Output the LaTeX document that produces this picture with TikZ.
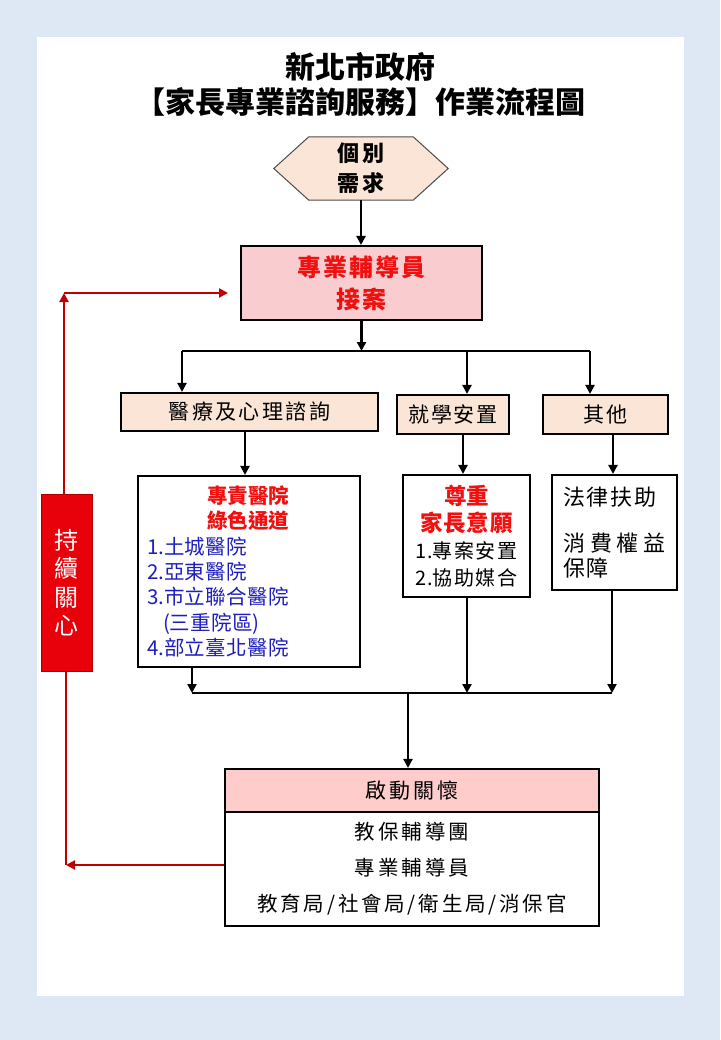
\documentclass[tikz,border=0pt]{standalone}
\usepackage{fontspec}
\setmainfont{Noto Sans CJK TC}
\usetikzlibrary{arrows.meta,calc,backgrounds}
\definecolor{bgblue}{RGB}{222,232,244}
\definecolor{peach}{RGB}{251,229,214}
\definecolor{pinkbox}{RGB}{249,204,208}
\definecolor{pinkhd}{RGB}{255,204,204}
\definecolor{tred}{RGB}{240,16,16}
\definecolor{tblue}{RGB}{30,30,190}
\definecolor{dred}{RGB}{192,0,0}
\definecolor{rcfill}{RGB}{232,0,10}
\definecolor{rcedge}{RGB}{170,0,0}
\makeatletter
\newcommand\lsp[2]{\def\lsp@k{#1}\@tfor\lsp@c:=#2\do{\lsp@c\kern\lsp@k}\unkern}
\makeatother
\newcommand\fs[2]{\fontsize{#1}{#2}\selectfont}
\tikzset{
  box/.style={draw=black, line width=2.1pt, inner sep=0pt, align=center},
  arr/.style={line width=2.7pt, -{Triangle[length=9pt,width=9pt]}},
  plain/.style={line width=2.7pt},
  redarr/.style={draw=dred, line width=2.5pt, -{Triangle[length=9pt,width=9pt]}},
  redline/.style={draw=dred, line width=2.5pt},
}
\begin{document}
\begin{tikzpicture}[x=1pt,y=-1pt]
\useasboundingbox (0,0) rectangle (720,1040);
\begin{scope}[on background layer]
  \fill[bgblue] (0,0) rectangle (720,1040);
  \fill[white] (37,37) rectangle (684,996);
\end{scope}

% title
\node[font=\fs{30}{35}\bfseries, align=center, inner sep=0pt] (title) at (360,84)
  {新北市政府\\【家長專業諮詢服務】作業流程圖};

% hexagon
\node[inner sep=0pt, minimum width=174pt, minimum height=63pt,
      font=\fs{22}{30}\bfseries, align=center] (hex) at (361,168.5)
  {\lsp{4pt}{個別}\\\lsp{4pt}{需求}};
\begin{scope}[on background layer]
  \draw[line width=1pt, draw=black!70, fill=peach]
    (hex.west) -- ($(hex.north west)+(35,0)$) -- ($(hex.north east)+(-35,0)$)
    -- (hex.east) -- ($(hex.south east)+(-35,0)$) -- ($(hex.south west)+(35,0)$) -- cycle;
\end{scope}

% main case box
\node[box, fill=pinkbox, minimum width=241pt, minimum height=74pt,
      font=\fs{24}{32}\bfseries, text=tred] (jd) at (361.5,283)
  {\lsp{2pt}{專業輔導員}\\\lsp{2pt}{接案}};

% category boxes
\node[box, fill=peach, minimum width=257pt, minimum height=38pt, font=\fs{21}{25}] (med) at (249.5,412)
  {\lsp{2.4pt}{醫療及心理諮詢}};
\node[box, fill=peach, minimum width=112pt, minimum height=39pt, font=\fs{21}{25}] (sch) at (453,414.5)
  {\lsp{2pt}{就學安置}};
\node[box, fill=peach, minimum width=125pt, minimum height=39pt, font=\fs{21}{25}] (oth) at (605.5,414.5)
  {\lsp{3pt}{其他}};

% detail boxes
\node[box, fill=white, minimum width=222pt, minimum height=191pt, inner xsep=9pt,
      text width=204pt, align=left, font=\fs{20.5}{25.3}] (hosp) at (249,571.5)
  {\hspace*{60pt}\textcolor{tred}{\bfseries 專責醫院}\\
   \hspace*{60pt}\textcolor{tred}{\bfseries 綠色通道}\\
   \textcolor{tblue}{1.\lsp{0.3pt}{土城醫院}}\\
   \textcolor{tblue}{2.\lsp{0.3pt}{亞東醫院}}\\
   \textcolor{tblue}{3.\lsp{0.3pt}{市立聯合醫院}}\\
   \hspace*{16pt}\textcolor{tblue}{(\lsp{0.3pt}{三重院區})}\\
   \textcolor{tblue}{4.\lsp{0.3pt}{部立臺北醫院}}};

\node[box, fill=white, minimum width=127pt, minimum height=122pt, font=\fs{20}{27}] (resp) at (466.5,536)
  {\textcolor{tred}{\fs{22.5}{27}\bfseries 尊重}\\
   \textcolor{tred}{\fs{22.5}{27}\bfseries\lsp{1pt}{家長意願}}\\
   1.\lsp{1.5pt}{專案安置}\\
   2.\lsp{1.5pt}{協助媒合}};

\node[box, fill=white, minimum width=125pt, minimum height=115pt, inner xsep=11pt,
      text width=103pt, align=left, font=\fs{22}{25}] (law) at (614.5,532.5)
  {\lsp{2pt}{法律扶助}\\[21pt]
   \lsp{5pt}{消費權益}\\
   \lsp{2pt}{保障}};

% final box
\node[box, fill=pinkhd, minimum width=374pt, minimum height=43pt, font=\fs{21}{25}] (hd) at (412,790.5)
  {\lsp{3pt}{啟動關懷}};
\node[box, fill=white, minimum width=374pt, minimum height=114pt, font=\fs{20.5}{36}] (bd) at (412,869)
  {\lsp{3pt}{教保輔導團}\\
   \lsp{3pt}{專業輔導員}\\
   \lsp{2.8pt}{教育局/社會局/衛生局/消保官}};

% continuous care box
\node[draw=rcedge, line width=1pt, fill=rcfill, minimum width=51pt, minimum height=177pt,
      inner sep=0pt, align=center, text=white, font=\fs{24}{28.5}] (rc) at (66.5,582.5)
  {持\\續\\關\\心};

% coordinates
\coordinate (s0) at (361.5,351);
\coordinate (b1) at (182,351);
\coordinate (b2) at (467,351);
\coordinate (b3) at (590,351);
\coordinate (m1) at (192,693);
\coordinate (m2) at (467,693);
\coordinate (m3) at (612,693);
\coordinate (mj) at (408,693);
\coordinate (c2) at (64,293);
\coordinate (c3) at (228,293);
\coordinate (c1) at (66,865);

% black connectors
\draw[arr] (hex.south) -- (hex.south |- jd.north);
\draw[arr] (jd.south) -- (s0);
\draw[plain] (b1) -- (b3);
\draw[arr] (b1) -- (b1 |- med.north);
\draw[arr] (b2) -- (b2 |- sch.north);
\draw[arr] (b3) -- (b3 |- oth.north);
\draw[arr] (med.south -| 245,0) -- (245,0 |- hosp.north);
\draw[arr] (sch.south -| 463,0) -- (463,0 |- resp.north);
\draw[arr] (oth.south -| 613,0) -- (613,0 |- law.north);
\draw[arr] (hosp.south -| m1) -- (m1);
\draw[arr] (resp.south -| m2) -- (m2);
\draw[arr] (law.south -| m3) -- (m3);
\draw[plain] (m1) -- (m3);
\draw[arr] (mj) -- (mj |- hd.north);

% red loop
\draw[redarr] (rc.north -| c2) -- (c2);
\draw[redarr] (c2) -- (c3);
\draw[redline] (rc.south -| c1) -- (c1);
\draw[redarr] (bd.west |- c1) -- (c1);
\end{tikzpicture}
\end{document}
